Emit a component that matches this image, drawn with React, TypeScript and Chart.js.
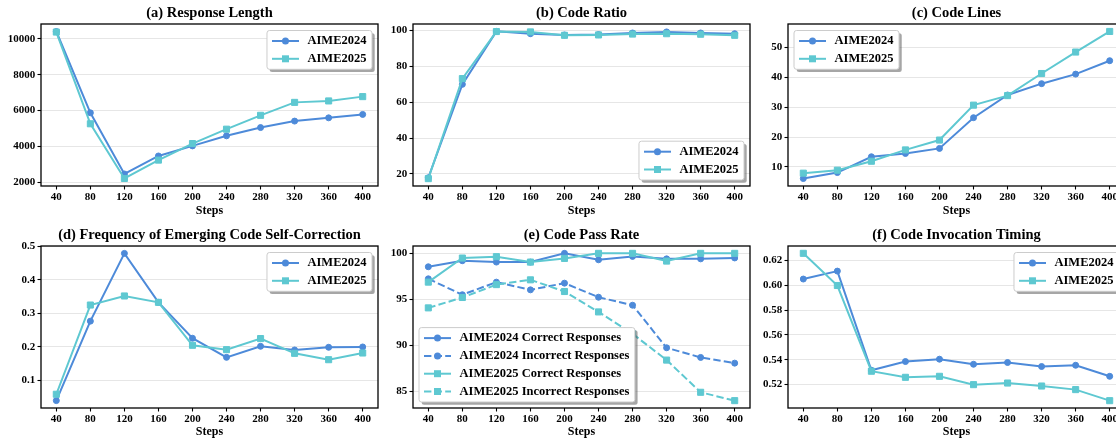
import React, { useEffect, useRef } from 'react';
import { Chart, registerables } from 'chart.js';

Chart.register(...registerables);

const FONT = '"Liberation Serif", "Times New Roman", serif';
const BLUE = '#4D8AD9';
const CYAN = '#5EC8D1';

// ---------- data ----------
const STEPS = [40, 80, 120, 160, 200, 240, 280, 320, 360, 400];

const RESPONSE_LENGTH_2024 = [10400, 5880, 2480, 3480, 4040, 4600, 5060, 5420, 5600, 5790];
const RESPONSE_LENGTH_2025 = [10370, 5270, 2230, 3250, 4170, 4970, 5740, 6460, 6540, 6780];

const CODE_RATIO_2024 = [17.9, 69.9, 99.4, 98.1, 97.4, 97.6, 98.5, 99.1, 98.5, 98.1];
const CODE_RATIO_2025 = [17.4, 73.1, 99.3, 99.1, 97.2, 97.4, 97.9, 98.1, 97.8, 97.2];

const CODE_LINES_2024 = [6.1, 8.1, 13.4, 14.5, 16.2, 26.5, 34.1, 37.9, 41.1, 45.6];
const CODE_LINES_2025 = [7.9, 8.9, 11.9, 15.7, 19.0, 30.7, 33.9, 41.3, 48.5, 55.4];

const SELF_CORRECTION_2024 = [0.04, 0.277, 0.479, 0.333, 0.226, 0.169, 0.202, 0.191, 0.199, 0.2];
const SELF_CORRECTION_2025 = [0.059, 0.325, 0.352, 0.333, 0.205, 0.192, 0.225, 0.181, 0.162, 0.182];

const PASS_2024_CORRECT = [98.54, 99.2, 99.05, 99.05, 100.0, 99.3, 99.67, 99.4, 99.4, 99.5];
const PASS_2024_INCORRECT = [97.23, 95.5, 96.87, 96.03, 96.76, 95.23, 94.36, 89.73, 88.68, 88.06];
const PASS_2025_CORRECT = [96.87, 99.49, 99.64, 99.05, 99.45, 100.0, 100.0, 99.16, 100.0, 100.0];
const PASS_2025_INCORRECT = [94.07, 95.2, 96.6, 97.12, 95.85, 93.63, 91.25, 88.39, 84.89, 83.98];

const TIMING_2024 = [0.605, 0.6114, 0.5316, 0.5386, 0.5405, 0.5364, 0.5378, 0.5346, 0.5356, 0.5267];
const TIMING_2025 = [0.6257, 0.5998, 0.5308, 0.5259, 0.5267, 0.52, 0.5213, 0.5189, 0.516, 0.5071];

const TICKS_A = [2000, 4000, 6000, 8000, 10000];
const TICKS_B = [20, 40, 60, 80, 100];
const TICKS_C = [10, 20, 30, 40, 50];
const TICKS_D = [0.1, 0.2, 0.3, 0.4, 0.5];
const TICKS_E = [85, 90, 95, 100];
const TICKS_F = [0.52, 0.54, 0.56, 0.58, 0.6, 0.62];

// ---------- types ----------
type Series = { label: string; values: number[]; color: string; marker: 'circle' | 'rect'; dashed?: boolean };
type Spec = {
  title: string;
  series: Series[];
  yMin: number;
  yMax: number;
  yTicks: number[];
  dec: number;
  legend: 'ur' | 'lr' | 'ul' | 'll';
  left: number;
  row: 0 | 1;
};

const s24 = (values: number[], label = 'AIME2024', dashed = false): Series => ({ label, values, color: BLUE, marker: 'circle', dashed });
const s25 = (values: number[], label = 'AIME2025', dashed = false): Series => ({ label, values, color: CYAN, marker: 'rect', dashed });

const COL_LEFT = [0, 372, 747];
const ROWS = [
  { top: 0, height: 220, topPad: 24, xH: 34, stepsPad: 2, titleY: 13.5 },
  { top: 220, height: 219, topPad: 26, xH: 31, stepsPad: 0, titleY: 15 },
];
const YW = 41;
const PW = 337;
const RPAD = 14;
const CW = YW + PW + RPAD;

const SPECS: Spec[] = [
  { title: '(a) Response Length', series: [s24(RESPONSE_LENGTH_2024), s25(RESPONSE_LENGTH_2025)], yMin: 1811, yMax: 10817, yTicks: TICKS_A, dec: 0, legend: 'ur', left: COL_LEFT[0], row: 0 },
  { title: '(b) Code Ratio', series: [s24(CODE_RATIO_2024), s25(CODE_RATIO_2025)], yMin: 13.3, yMax: 103.5, yTicks: TICKS_B, dec: 0, legend: 'lr', left: COL_LEFT[1], row: 0 },
  { title: '(c) Code Lines', series: [s24(CODE_LINES_2024), s25(CODE_LINES_2025)], yMin: 3.6, yMax: 57.9, yTicks: TICKS_C, dec: 0, legend: 'ul', left: COL_LEFT[2], row: 0 },
  { title: '(d) Frequency of Emerging Code Self-Correction', series: [s24(SELF_CORRECTION_2024), s25(SELF_CORRECTION_2025)], yMin: 0.018, yMax: 0.501, yTicks: TICKS_D, dec: 1, legend: 'ur', left: COL_LEFT[0], row: 1 },
  {
    title: '(e) Code Pass Rate',
    series: [
      s24(PASS_2024_CORRECT, 'AIME2024 Correct Responses'),
      s24(PASS_2024_INCORRECT, 'AIME2024 Incorrect Responses', true),
      s25(PASS_2025_CORRECT, 'AIME2025 Correct Responses'),
      s25(PASS_2025_INCORRECT, 'AIME2025 Incorrect Responses', true),
    ],
    yMin: 83.18, yMax: 100.8, yTicks: TICKS_E, dec: 0, legend: 'll', left: COL_LEFT[1], row: 1,
  },
  { title: '(f) Code Invocation Timing', series: [s24(TIMING_2024), s25(TIMING_2025)], yMin: 0.5012, yMax: 0.6316, yTicks: TICKS_F, dec: 2, legend: 'ur', left: COL_LEFT[2], row: 1 },
];

const DASH = [7.4, 3.2];

function roundRect(ctx: CanvasRenderingContext2D, x: number, y: number, w: number, h: number, r: number) {
  ctx.beginPath();
  ctx.moveTo(x + r, y);
  ctx.lineTo(x + w - r, y);
  ctx.arcTo(x + w, y, x + w, y + r, r);
  ctx.lineTo(x + w, y + h - r);
  ctx.arcTo(x + w, y + h, x + w - r, y + h, r);
  ctx.lineTo(x + r, y + h);
  ctx.arcTo(x, y + h, x, y + h - r, r);
  ctx.lineTo(x, y + r);
  ctx.arcTo(x, y, x + r, y, r);
  ctx.closePath();
}

function drawMarker(ctx: CanvasRenderingContext2D, s: Series, x: number, y: number) {
  ctx.fillStyle = s.color;
  ctx.beginPath();
  if (s.marker === 'circle') {
    ctx.arc(x, y, 3.5, 0, Math.PI * 2);
  } else {
    ctx.rect(x - 3.5, y - 3.5, 7, 7);
  }
  ctx.fill();
}

function makePlugin(spec: Spec, titleY: number) {
  return {
    id: 'decor',
    afterDatasetsDraw(chart: any) {
      const { ctx, chartArea: ca } = chart;
      ctx.save();
      ctx.strokeStyle = '#000';
      ctx.lineWidth = 1.3;
      ctx.strokeRect(ca.left, ca.top, ca.right - ca.left, ca.bottom - ca.top);
      ctx.restore();
    },
    afterDraw(chart: any) {
      const { ctx, chartArea: ca } = chart;
      ctx.save();
      // title
      ctx.fillStyle = '#000';
      ctx.font = `bold 14.5px ${FONT}`;
      ctx.textAlign = 'center';
      ctx.textBaseline = 'middle';
      ctx.fillText(spec.title, (ca.left + ca.right) / 2, titleY);

      // legend
      const items = spec.series;
      ctx.font = `bold 12.5px ${FONT}`;
      const maxW = Math.max(...items.map((it) => ctx.measureText(it.label).width));
      const w = 40.5 + maxW + 5.5;
      const h = 21 + (items.length - 1) * 17.8;
      const m = 6;
      const x = spec.legend.includes('r') ? ca.right - m - w : ca.left + m;
      const y = spec.legend.includes('u') ? ca.top + m + 0.5 : ca.bottom - m - h;
      ctx.fillStyle = 'rgba(77,77,77,0.5)';
      roundRect(ctx, x + 2.7, y + 2.7, w, h, 2.5);
      ctx.fill();
      ctx.fillStyle = '#ffffff';
      roundRect(ctx, x, y, w, h, 2.5);
      ctx.fill();
      ctx.strokeStyle = '#cccccc';
      ctx.lineWidth = 1;
      ctx.stroke();
      items.forEach((it, i) => {
        const cy = y + 10.5 + i * 17.8;
        const x0 = x + 5;
        const x1 = x0 + 27;
        ctx.strokeStyle = it.color;
        ctx.lineWidth = 2;
        ctx.setLineDash(it.dashed ? DASH : []);
        ctx.beginPath();
        ctx.moveTo(x0, cy);
        ctx.lineTo(x1, cy);
        ctx.stroke();
        ctx.setLineDash([]);
        drawMarker(ctx, it, (x0 + x1) / 2, cy);
        ctx.fillStyle = '#000';
        ctx.textAlign = 'left';
        ctx.textBaseline = 'middle';
        ctx.fillText(it.label, x + 40.5, cy);
      });
      ctx.restore();
    },
  };
}

function Panel({ spec }: { spec: Spec }) {
  const ref = useRef<HTMLCanvasElement>(null);
  const row = ROWS[spec.row];
  useEffect(() => {
    const canvas = ref.current;
    if (!canvas) return;
    const tickFont = { family: FONT, size: 11, weight: 'bold' as const };
    const n = spec.series.length;
    const chart = new Chart(canvas, {
      type: 'line',
      data: {
        datasets: spec.series.map((s, i) => ({
          label: s.label,
          data: STEPS.map((x, j) => ({ x, y: s.values[j] })),
          borderColor: s.color,
          backgroundColor: s.color,
          pointBackgroundColor: s.color,
          pointBorderColor: s.color,
          borderWidth: 2,
          borderDash: s.dashed ? DASH : [],
          pointStyle: s.marker,
          pointRadius: s.marker === 'circle' ? 3 : 4.3,
          pointBorderWidth: 1,
          tension: 0,
          fill: false,
          order: n - i,
        })),
      },
      options: {
        animation: false,
        responsive: false,
        devicePixelRatio: 1,
        layout: { padding: { top: row.topPad, right: RPAD, left: 0, bottom: 0 } },
        plugins: {
          legend: { display: false },
          tooltip: { enabled: false },
          title: { display: false },
        },
        scales: {
          x: {
            type: 'linear',
            min: 22,
            max: 418,
            afterBuildTicks: (s: any) => {
              s.ticks = STEPS.map((v) => ({ value: v }));
            },
            afterFit: (s: any) => {
              s.height = row.xH;
            },
            grid: { display: true, drawOnChartArea: false, drawTicks: true, tickLength: 3.5, tickColor: '#000', tickWidth: 1.1 },
            border: { display: false },
            ticks: { color: '#000', font: tickFont, padding: 1.2, maxRotation: 0, autoSkip: false, callback: (v: any) => String(v) },
            title: { display: true, text: 'Steps', color: '#000', font: { family: FONT, size: 12, weight: 'bold' }, padding: { top: 0, bottom: row.stepsPad } },
          },
          y: {
            type: 'linear',
            min: spec.yMin,
            max: spec.yMax,
            afterBuildTicks: (s: any) => {
              s.ticks = spec.yTicks.map((v) => ({ value: v }));
            },
            afterFit: (s: any) => {
              s.width = YW;
            },
            grid: { color: '#e6e6e6', lineWidth: 1, drawTicks: true, tickLength: 3.5, tickColor: '#000', tickWidth: 1.1 },
            border: { display: false },
            ticks: { color: '#000', font: tickFont, padding: 2.2, autoSkip: false, callback: (v: any) => Number(v).toFixed(spec.dec) },
          },
        },
      },
      plugins: [makePlugin(spec, row.titleY)],
    } as any);
    return () => chart.destroy();
  }, []);
  return (
    <canvas
      ref={ref}
      width={CW}
      height={row.height}
      style={{ position: 'absolute', left: spec.left, top: row.top, width: CW, height: row.height }}
    />
  );
}

export default function App() {
  return (
    <div style={{ position: 'fixed', left: 0, top: 0, width: 1116, height: 439, overflow: 'hidden', background: '#fff' }}>
      {SPECS.map((s) => (
        <Panel key={s.title} spec={s} />
      ))}
    </div>
  );
}
